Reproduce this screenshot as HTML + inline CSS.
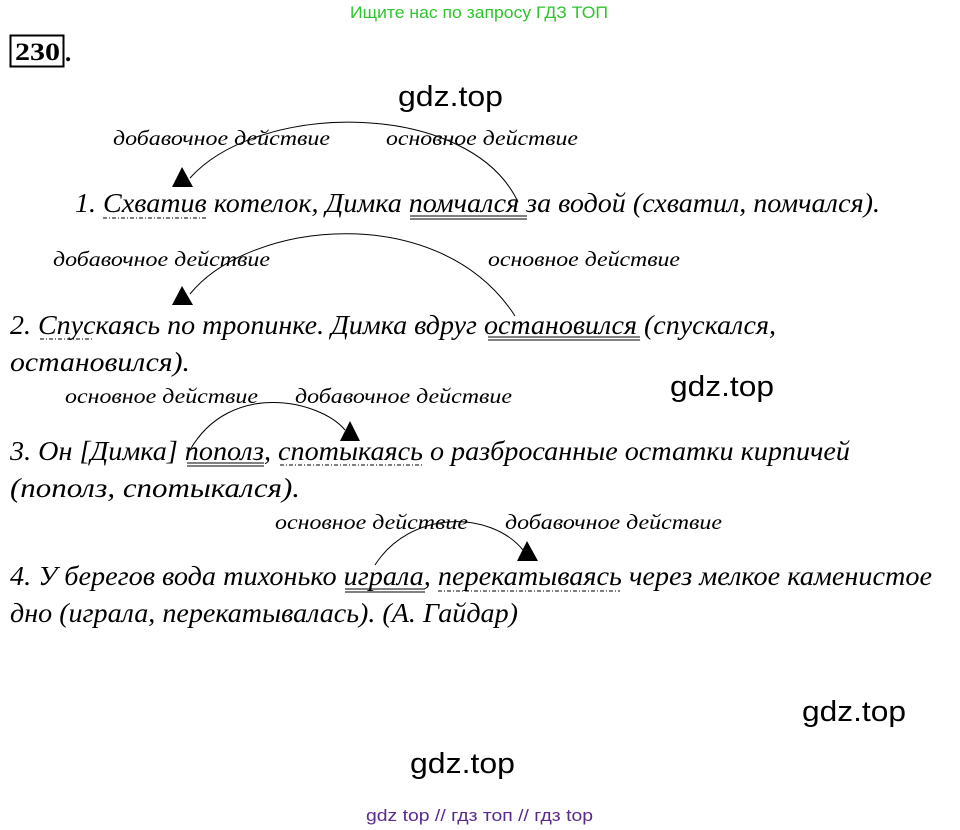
<!DOCTYPE html>
<html><head><meta charset="utf-8"><style>
html,body{margin:0;padding:0;background:#fff;}
svg{display:block;}
.s{font-family:"Liberation Serif",serif;font-style:italic;}
.g{font-family:"Liberation Sans",sans-serif;}
</style></head><body>
<svg width="960" height="830" viewBox="0 0 960 830" xmlns="http://www.w3.org/2000/svg">
<text class="g" x="350" y="18" font-size="17" fill="#2ec52e" textLength="258" lengthAdjust="spacingAndGlyphs">Ищите нас по запросу ГДЗ ТОП</text>
<rect x="10.5" y="35.5" width="53" height="31" fill="none" stroke="#000" stroke-width="2"/>
<text x="15" y="60" font-family="Liberation Serif,serif" font-weight="bold" font-size="25" textLength="45" lengthAdjust="spacingAndGlyphs">230</text>
<text x="65" y="61" font-family="Liberation Serif,serif" font-weight="bold" font-size="25">.</text>

<g class="g" font-size="29" fill="#000">
<text x="398" y="106" textLength="105" lengthAdjust="spacingAndGlyphs">gdz.top</text>
<text x="670" y="396" textLength="104" lengthAdjust="spacingAndGlyphs">gdz.top</text>
<text x="802" y="721" textLength="104" lengthAdjust="spacingAndGlyphs">gdz.top</text>
<text x="410" y="773" textLength="105" lengthAdjust="spacingAndGlyphs">gdz.top</text>
</g>
<text class="g" x="366" y="821" font-size="17" fill="#5a2a8a" textLength="227" lengthAdjust="spacingAndGlyphs">gdz top  //  гдз топ  //  гдз top</text>

<g class="s" font-size="21" fill="#000">
<text x="113" y="145" textLength="217" lengthAdjust="spacingAndGlyphs">добавочное действие</text>
<text x="386" y="145" textLength="192" lengthAdjust="spacingAndGlyphs">основное действие</text>
<text x="53" y="266" textLength="217" lengthAdjust="spacingAndGlyphs">добавочное действие</text>
<text x="488" y="266" textLength="192" lengthAdjust="spacingAndGlyphs">основное действие</text>
<text x="65" y="403" textLength="193" lengthAdjust="spacingAndGlyphs">основное действие</text>
<text x="295" y="403" textLength="217" lengthAdjust="spacingAndGlyphs">добавочное действие</text>
<text x="275" y="529" textLength="193" lengthAdjust="spacingAndGlyphs">основное действие</text>
<text x="505" y="529" textLength="217" lengthAdjust="spacingAndGlyphs">добавочное действие</text>
</g>

<g class="s" font-size="27" fill="#000">
<text x="75" y="212" textLength="805" lengthAdjust="spacingAndGlyphs">1. Схватив котелок, Димка помчался за водой (схватил, помчался).</text>
<text x="10" y="334" textLength="766" lengthAdjust="spacingAndGlyphs">2. Спускаясь по тропинке. Димка вдруг остановился (спускался,</text>
<text x="10" y="371" textLength="180" lengthAdjust="spacingAndGlyphs">остановился).</text>
<text x="10" y="460" textLength="840" lengthAdjust="spacingAndGlyphs">3. Он [Димка] пополз, спотыкаясь о разбросанные остатки кирпичей</text>
<text x="10" y="497" textLength="290" lengthAdjust="spacingAndGlyphs">(пополз, спотыкался).</text>
<text x="10" y="585" textLength="922" lengthAdjust="spacingAndGlyphs">4. У берегов вода тихонько играла, перекатываясь через мелкое каменистое</text>
<text x="10" y="622" textLength="508" lengthAdjust="spacingAndGlyphs">дно (играла, перекатывалась). (А. Гайдар)</text>
</g>

<g stroke="#000" stroke-width="1" fill="none">
<line x1="103" y1="218" x2="207" y2="218" stroke-dasharray="4,2,1,2"/>
<line x1="410" y1="216" x2="527" y2="216"/><line x1="410" y1="219" x2="527" y2="219"/>
<line x1="40" y1="339" x2="93" y2="339" stroke-dasharray="4,2,1,2"/>
<line x1="488" y1="337" x2="640" y2="337"/><line x1="488" y1="340" x2="640" y2="340"/>
<line x1="187" y1="463" x2="264" y2="463"/><line x1="187" y1="466" x2="264" y2="466"/>
<line x1="280" y1="465" x2="424" y2="465" stroke-dasharray="4,2,1,2"/>
<line x1="345" y1="589" x2="425" y2="589"/><line x1="345" y1="592" x2="425" y2="592"/>
<line x1="438" y1="591" x2="620" y2="591" stroke-dasharray="4,2,1,2"/>
<path d="M518,202 C470,100 260,100 190,178"/>
<path d="M515,316 C440,200 250,220 190,294"/>
<path d="M190,450 C230,380 320,400 345,430"/>
<path d="M375,565 C410,510 490,510 523,550"/>
</g>
<g fill="#000">
<polygon points="182,167 172,187 193,187"/>
<polygon points="182,286 172,305 193,305"/>
<polygon points="350,421 340,441 360,441"/>
<polygon points="527,541 517,561 538,561"/>
</g>
</svg>
</body></html>
